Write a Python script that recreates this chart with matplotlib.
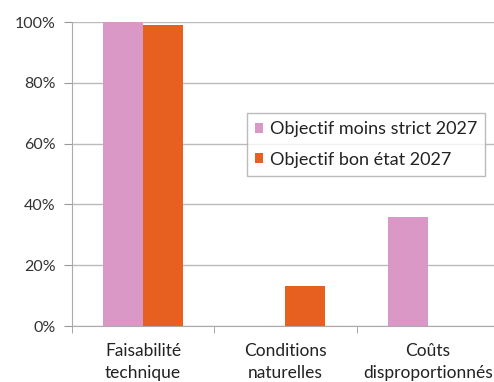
import matplotlib
matplotlib.use("Agg")
import matplotlib.pyplot as plt
import numpy as np

categories = ["Faisabilité\ntechnique", "Conditions\nnaturelles", "Coûts\ndisproportionnés"]
series_names = ["Objectif moins strict 2027", "Objectif bon état 2027"]
moins_strict = [100, 0, 36]
bon_etat = [99, 13, 0]
yticks = [0, 20, 40, 60, 80, 100]
ytick_labels = ["0%", "20%", "40%", "60%", "80%", "100%"]

plt.rcParams['font.family'] = ['Lato', 'DejaVu Sans']

fig = plt.figure(figsize=(4.94, 3.82), dpi=100)
ax = fig.add_axes([72/494, 1-326/382, (3*142.3)/494, (326-22)/382])

x = np.arange(len(categories)) + 0.5
w = 0.28
ax.bar(x - w/2, moins_strict, w, color="#DA98C6", label=series_names[0], zorder=3)
ax.bar(x + w/2, bon_etat, w, color="#E8601F", label=series_names[1], zorder=3)

ax.set_xlim(0, 3)
ax.set_ylim(0, 100)
ax.set_yticks(yticks)
ax.set_yticklabels(ytick_labels, fontsize=11.5, color="#333333")
ax.set_xticks(x)
ax.set_xticklabels(categories, fontsize=12.5, color="#222222", linespacing=1.45)
ax.set_xticks([0, 1, 2, 3], minor=True)
ax.tick_params(axis='x', which='major', length=0, pad=12)
ax.tick_params(axis='x', which='minor', length=5, color="#999999")
ax.tick_params(axis='y', length=6, color="#999999", pad=6)
ax.yaxis.grid(True, color="#BBBBBB", linewidth=1, zorder=0)
for s in ["top", "right"]:
    ax.spines[s].set_visible(False)
ax.spines["left"].set_color("#AAAAAA")
ax.spines["bottom"].set_color("#AAAAAA")

leg = ax.legend(loc="upper left", bbox_to_anchor=((247-72)/(3*142.3), (326-113)/304),
                fontsize=13, frameon=True, fancybox=False, shadow=False,
                handlelength=0.45, handleheight=0.45, handletextpad=0.35,
                borderpad=0.45, labelspacing=0.8, borderaxespad=0)
leg.get_frame().set_edgecolor("#AAAAAA")
leg.get_frame().set_linewidth(1)
for t in leg.get_texts():
    t.set_color("#222222")

fig.savefig("out.png", dpi=100)
